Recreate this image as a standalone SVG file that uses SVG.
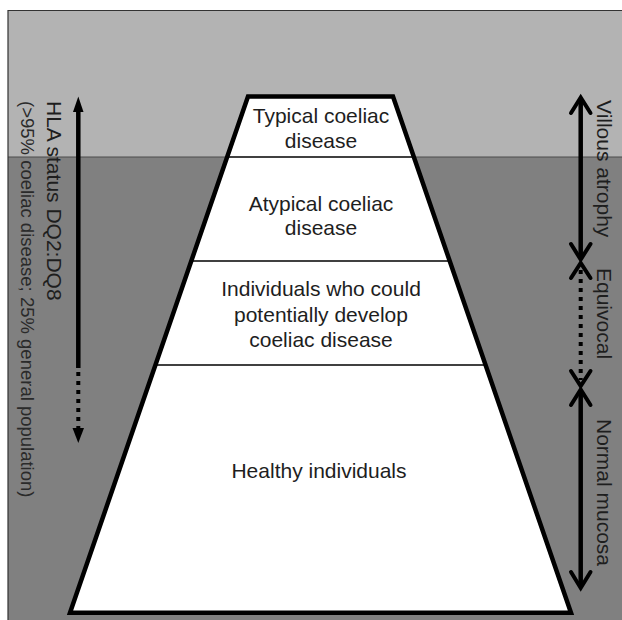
<svg xmlns="http://www.w3.org/2000/svg" width="622" height="620" viewBox="0 0 622 620">
<style>
  text { font-family: "Liberation Sans", Arial, sans-serif; fill: #1e1e1e; }
  .ctr { font-size: 21px; text-anchor: middle; }
  .side { font-size: 21px; }
  .small { font-size: 18.5px; fill: #2a2a2a; }
  .sep { stroke: #000; stroke-width: 1.5; }
  .shaft { stroke: #000; stroke-width: 4.5; fill: none; }
  .dots { stroke: #000; stroke-width: 4; fill: none; stroke-dasharray: 4 5; }
  .chev { stroke: #000; stroke-width: 4; fill: none; stroke-linecap: round; stroke-linejoin: miter; }
</style>
<rect width="622" height="620" fill="#ffffff"/>
<g id="background">
  <rect x="8" y="10.5" width="620" height="147" fill="#b3b3b3"/>
  <rect x="8" y="157" width="620" height="470" fill="#808080"/>
  <line x1="8" y1="157" x2="622" y2="157" stroke="#4a4a4a" stroke-width="1"/>
  <path d="M8,625 V10.5 H625" fill="none" stroke="#333" stroke-width="1.2"/>
</g>
<g id="pyramid">
  <path d="M248,96.5 L393,96.5 L571,612.8 L70,612.8 Z" fill="#ffffff" stroke="#000" stroke-width="4.5" stroke-linejoin="miter"/>
  <line class="sep" x1="227" y1="157" x2="414" y2="157"/>
  <line class="sep" x1="191" y1="261" x2="450" y2="261"/>
  <line class="sep" x1="155" y1="365" x2="486" y2="365"/>
</g>
<g id="typical">
  <text class="ctr" x="321" y="123">Typical coeliac</text>
  <text class="ctr" x="321" y="148">disease</text>
</g>
<g id="atypical">
  <text class="ctr" x="321" y="211">Atypical coeliac</text>
  <text class="ctr" x="321" y="235">disease</text>
</g>
<g id="potential">
  <text class="ctr" x="321" y="296">Individuals who could</text>
  <text class="ctr" x="321" y="322">potentially develop</text>
  <text class="ctr" x="321" y="347">coeliac disease</text>
</g>
<g id="healthy">
  <text class="ctr" x="319" y="478">Healthy individuals</text>
</g>
<g id="connectors">
  <!-- left HLA arrow -->
  <line class="shaft" x1="78.3" y1="108" x2="78.3" y2="368"/>
  <path d="M78.3,96.5 L83.5,112 L73,112 Z" fill="#000"/>
  <line class="dots" x1="78.3" y1="372" x2="78.3" y2="430"/>
  <path d="M78.3,443 L72.5,428 L84,428 Z" fill="#000"/>
  <!-- Villous atrophy -->
  <line class="shaft" x1="580.7" y1="99" x2="580.7" y2="257"/>
  <polyline class="chev" points="571,113 580.7,97.5 590.5,113"/>
  <polyline class="chev" points="571,244 580.7,259.5 590.5,244"/>
  <!-- Equivocal -->
  <line class="dots" x1="580.7" y1="270" x2="580.7" y2="380"/>
  <polyline class="chev" points="571,278 580.7,263 590.5,278"/>
  <polyline class="chev" points="571,371 580.7,386 590.5,371"/>
  <!-- Normal mucosa -->
  <line class="shaft" x1="580.7" y1="391" x2="580.7" y2="586"/>
  <polyline class="chev" points="571,405 580.7,389.5 590.5,405"/>
  <polyline class="chev" points="571,572 580.7,588 590.5,572"/>
</g>
<g id="hla-label">
  <text class="side" transform="translate(47,101) rotate(90)">HLA status DQ2:DQ8</text>
  <text class="side small" transform="translate(21,101) rotate(90)">(&gt;95% coeliac disease; 25% general population)</text>
</g>
<g id="mucosa-labels">
  <text class="side" transform="translate(597,100) rotate(90)">Villous atrophy</text>
  <text class="side" transform="translate(597,268) rotate(90)">Equivocal</text>
  <text class="side" transform="translate(597,419) rotate(90)">Normal mucosa</text>
</g>
</svg>
